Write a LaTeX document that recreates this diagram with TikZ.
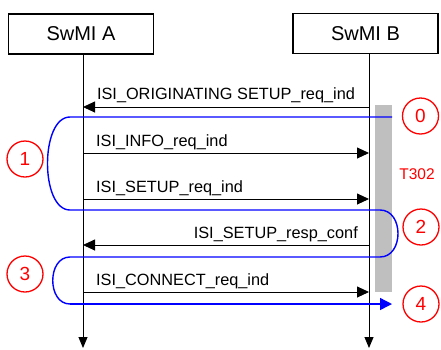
\documentclass[tikz,border=0pt]{standalone}
\usepackage{fontspec}
\setmainfont{Liberation Sans}
\usetikzlibrary{arrows.meta}
\begin{document}
\begin{tikzpicture}[x=1pt,y=-1pt,
    entity/.style={draw,line width=1.4pt,minimum width=145pt,minimum height=40pt,inner sep=0pt,font=\fontsize{20}{22}\selectfont},
    life/.style={line width=0.9pt,-{Triangle[length=11pt,width=9pt]}},
    msg/.style={line width=0.9pt,-{Triangle[length=12pt,width=11pt]}},
    lbl/.style={inner sep=0pt,font=\fontsize{16.3}{18}\selectfont},
    phase/.style={circle,draw=red,line width=1.3pt,text=red,minimum size=36pt,inner sep=0pt,font=\fontsize{19}{20}\selectfont},
    flow/.style={blue,line width=1.4pt}]
  \useasboundingbox (0,0) rectangle (441,349);
  % entities
  \node[entity] (A) at (81,34) {SwMI A};
  \node[entity] (B) at (365.5,33.5) {SwMI B};
  \coordinate (Aend) at (83,348);
  \coordinate (Bend) at (369,348);
  \draw[life] (A.south -| Aend) -- (Aend);
  \draw[life] (B.south -| Bend) -- (Bend);
  % timer
  \fill[black!25] (375,105) rectangle (392,292);
  \node[lbl,text=red,font=\fontsize{15.5}{18}\selectfont] (t302) at (417,174) {T302};
  % messages
  \coordinate (m0a) at (83,107);   \coordinate (m0b) at (369,107);
  \coordinate (m1a) at (83,153);   \coordinate (m1b) at (369,153);
  \coordinate (m2a) at (83,199);   \coordinate (m2b) at (369,199);
  \coordinate (m3a) at (83,245);   \coordinate (m3b) at (369,245);
  \coordinate (m4a) at (83,292);   \coordinate (m4b) at (369,292);
  \draw[msg] (m0b) -- (m0a) node[lbl,anchor=base,pos=0.5,yshift=8pt] {ISI\_ORIGINATING SETUP\_req\_ind};
  \draw[msg] (m1a) -- (m1b);
  \node[lbl,anchor=base west] (l1) at (96,146) {ISI\_INFO\_req\_ind};
  \draw[msg] (m2a) -- (m2b);
  \node[lbl,anchor=base west] (l2) at (96,192) {ISI\_SETUP\_req\_ind};
  \draw[msg] (m3b) -- (m3a);
  \node[lbl,anchor=base east] (l3) at (358,238) {ISI\_SETUP\_resp\_conf};
  \draw[msg] (m4a) -- (m4b);
  \node[lbl,anchor=base west] (l4) at (96,285) {ISI\_CONNECT\_req\_ind};
  % phases
  \node[phase] (p0) at (420.5,116) {0};
  \node[phase] (p1) at (25,159) {1};
  \node[phase] (p2) at (421,227) {2};
  \node[phase] (p3) at (25,274) {3};
  \node[phase] (p4) at (421,304) {4};
  \draw[flow] (392,117) -- (70,117) .. controls (40,117) and (40,210) .. (70,210)
    -- (380,210) .. controls (404,210) and (404,257) .. (380,257)
    -- (70,257) .. controls (47,257) and (47,304) .. (70,304);
  \draw[flow,-{Triangle[length=12pt,width=12pt]}] (70,304) -- (392,304);
\end{tikzpicture}
\end{document}
